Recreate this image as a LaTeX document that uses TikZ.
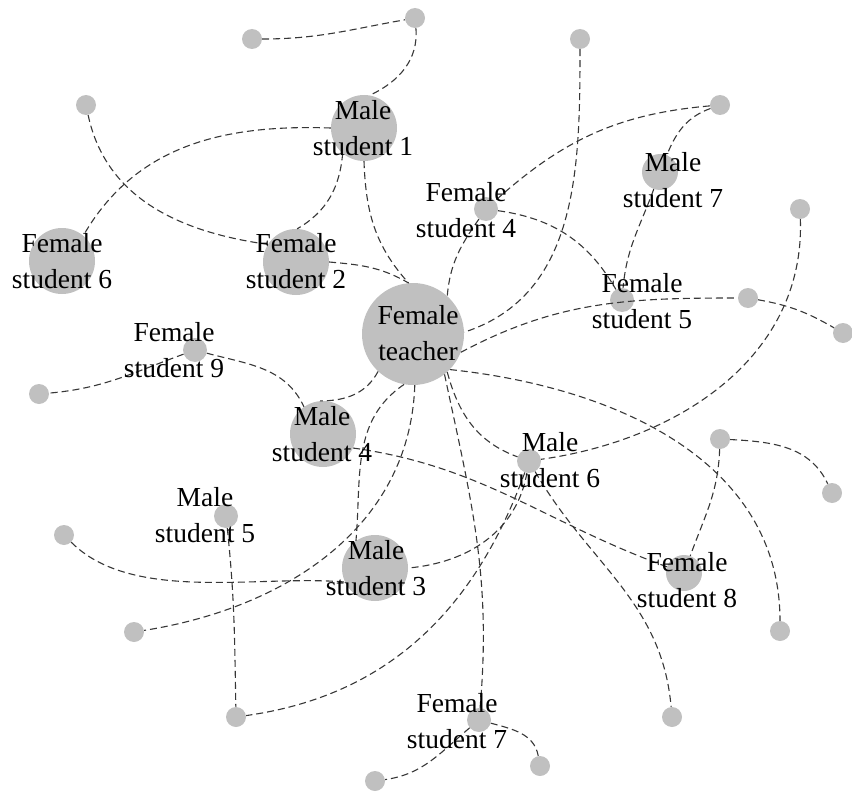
\documentclass[tikz,border=0pt]{standalone}
\usepackage{fontspec}
\setmainfont{Liberation Serif}
\usepackage{tikz}
\usetikzlibrary{
    arrows.meta,
    positioning
}
\definecolor{dotgray}{RGB}{192,192,192}
\definecolor{linkgray}{RGB}{55,55,55}
\tikzset{
    person/.style={
        circle,
        fill=dotgray,
        draw=none,
        inner sep=0pt
    },
    teacher/.style={
        person,
        minimum size=102pt
    },
    bigstudent/.style={
        person,
        minimum size=66pt
    },
    midstudent/.style={
        person,
        minimum size=36pt
    },
    smallstudent/.style={
        person,
        minimum size=24pt
    },
    leaf/.style={
        person,
        minimum size=20pt
    },
    lbl/.style={
        align=center,
        inner sep=0pt,
        font=\fontsize{27.5}{36}\selectfont
    },
    link/.style={
        draw=linkgray,
        line width=1.1pt,
        dash pattern=on 7pt off 4pt
    }
}

\begin{document}
\begin{tikzpicture}[x=1pt, y=1pt]
\useasboundingbox (0,0) rectangle (852,-792);

\node[teacher] (T) at (413,-334) {};
\node[bigstudent] (M1) at (364,-128) {};
\node[bigstudent] (F2) at (296,-262) {};
\node[bigstudent] (F6) at (62,-261) {};
\node[bigstudent] (M4) at (323,-434) {};
\node[bigstudent] (M3) at (375,-568) {};
\node[midstudent] (M7) at (660,-172) {};
\node[midstudent] (F8) at (684,-573) {};
\node[smallstudent] (F4) at (486,-209) {};
\node[smallstudent] (F5) at (622,-300) {};
\node[smallstudent] (F9) at (195,-350) {};
\node[smallstudent] (M5) at (226,-516) {};
\node[smallstudent] (M6) at (529,-461) {};
\node[smallstudent] (F7) at (479,-720) {};

\node[leaf] (l1) at (252,-39) {};
\node[leaf] (l2) at (415,-18) {};
\node[leaf] (l3) at (86,-105) {};
\node[leaf] (l4) at (580,-39) {};
\node[leaf] (l5) at (720,-105) {};
\node[leaf] (l6) at (800,-209) {};
\node[leaf] (l7) at (748,-298) {};
\node[leaf] (l8) at (843,-333) {};
\node[leaf] (l9) at (39,-394) {};
\node[leaf] (l10) at (720,-439) {};
\node[leaf] (l11) at (832,-493) {};
\node[leaf] (l12) at (64,-535) {};
\node[leaf] (l13) at (134,-632) {};
\node[leaf] (l14) at (780,-631) {};
\node[leaf] (l15) at (236,-717) {};
\node[leaf] (l16) at (672,-717) {};
\node[leaf] (l17) at (540,-766) {};
\node[leaf] (l18) at (375,-781) {};

\draw[link] (l1) to[out=0, in=190] (l2);
\draw[link] (l2) to[out=-85, in=25] (M1.80);
\draw[link] (M1.180) to[out=178, in=60] (F6.50);
\draw[link] (l3) to[out=-78, in=172] (F2.148);
\draw[link] (M1.-130) to[out=-95, in=30] (F2.88);
\draw[link] (M1.-90) to[out=-88, in=132] (T.95);
\draw[link] (F2.0) to[out=-5, in=150] (T.95);
\draw[link] (F4) to[out=-125, in=85] (T.48);
\draw[link] (l4) to[out=-90, in=18] (T.2);
\draw[link] (l5) to[out=185, in=42] (F4);
\draw[link] (l5) to[out=-160, in=68] (M7);
\draw[link] (M7) to[out=-110, in=85] (F5);
\draw[link] (F4) to[out=-8, in=120] (F5);
\draw[link] (T.-21) to[out=28, in=180] (l7);
\draw[link] (l7) to[out=-10, in=150] (l8);
\draw[link] (l6) to[out=-88, in=8] (M6);
\draw[link] (T.-44) to[out=-6, in=90] (l14);
\draw[link] (T.-48) to[out=-75, in=160] (M6);
\draw[link] (T.-52) to[out=-78, in=85] (F7);
\draw[link] (T.-133) to[out=-118, in=0] (M4.95);
\draw[link] (T.-100) to[out=-146, in=85] (M3.125);
\draw[link] (T.-88) to[out=-92, in=9] (l13);
\draw[link] (M4.-25) to[out=-8, in=160] (F8);
\draw[link] (F9) to[out=-160, in=5] (l9);
\draw[link] (F9) to[out=-15, in=115] (M4.125);
\draw[link] (M5) to[out=-84, in=91] (l15);
\draw[link] (M6) to[out=-110, in=8] (l15);
\draw[link] (M6) to[out=-100, in=5] (M3.0);
\draw[link] (M6) to[out=-60, in=95] (l16);
\draw[link] (l12) to[out=-45, in=175, looseness=0.8] (M3.205);
\draw[link] (F7) to[out=-15, in=100] (l17);
\draw[link] (F7) to[out=-140, in=8] (l18);
\draw[link] (l10) to[out=-92, in=70] (F8);
\draw[link] (l10) to[out=-3, in=115] (l11);

\node[lbl] (tT) at (418,-333) {Female\\teacher};
\node[lbl] (tM1) at (363,-128) {Male\\student 1};
\node[lbl] (tF2) at (296,-261) {Female\\student 2};
\node[lbl] (tF6) at (62,-261) {Female\\student 6};
\node[lbl] (tF4) at (466,-210) {Female\\student 4};
\node[lbl] (tM7) at (673,-180) {Male\\student 7};
\node[lbl] (tF5) at (642,-301) {Female\\student 5};
\node[lbl] (tF9) at (174,-350) {Female\\student 9};
\node[lbl] (tM4) at (322,-434) {Male\\student 4};
\node[lbl] (tM5) at (205,-515) {Male\\student 5};
\node[lbl] (tM3) at (376,-568) {Male\\student 3};
\node[lbl] (tM6) at (550,-460) {Male\\student 6};
\node[lbl] (tF8) at (687,-580) {Female\\student 8};
\node[lbl] (tF7) at (457,-721) {Female\\student 7};
\end{tikzpicture}
\end{document}
